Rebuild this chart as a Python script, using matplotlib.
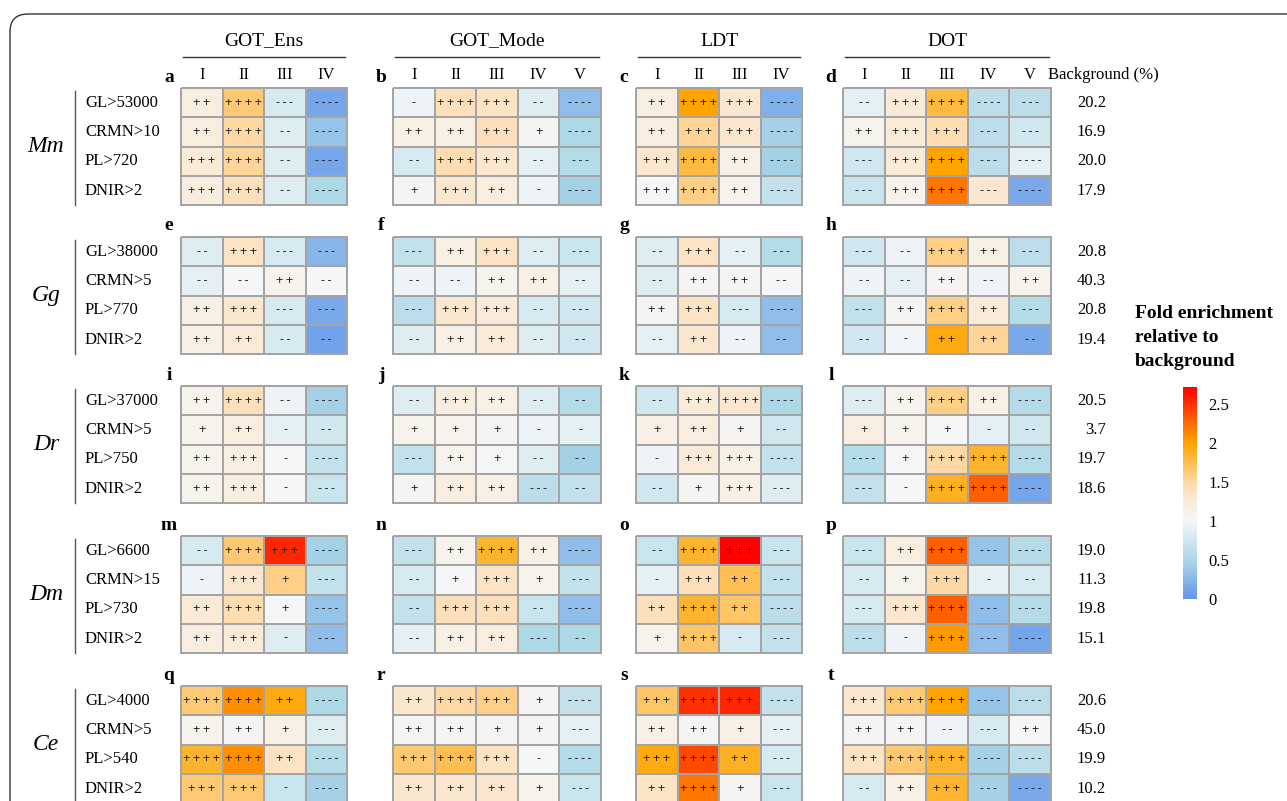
import numpy as np
import matplotlib
matplotlib.use("Agg")
import matplotlib.pyplot as plt
from matplotlib.colors import LinearSegmentedColormap, Normalize
from matplotlib.cm import ScalarMappable
from matplotlib.patches import FancyBboxPatch

plt.rcParams["font.family"] = ["Liberation Serif", "DejaVu Serif"]

# ---------------------------------------------------------------- data
species = ["Mm", "Gg", "Dr", "Dm", "Ce"]
methods = ["GOT_Ens", "GOT_Mode", "LDT", "DOT"]
method_classes = [["I", "II", "III", "IV"],
                  ["I", "II", "III", "IV", "V"],
                  ["I", "II", "III", "IV"],
                  ["I", "II", "III", "IV", "V"]]
panel_letters = list("abcdefghijklmnopqrst")

row_labels = [["GL>53000", "CRMN>10", "PL>720", "DNIR>2"],
              ["GL>38000", "CRMN>5", "PL>770", "DNIR>2"],
              ["GL>37000", "CRMN>5", "PL>750", "DNIR>2"],
              ["GL>6600", "CRMN>15", "PL>730", "DNIR>2"],
              ["GL>4000", "CRMN>5", "PL>540", "DNIR>2"]]

background_pct = [[20.2, 16.9, 20.0, 17.9],
                  [20.8, 40.3, 20.8, 19.4],
                  [20.5, 3.7, 19.7, 18.6],
                  [19.0, 11.3, 19.8, 15.1],
                  [20.6, 45.0, 19.9, 10.2]]

# fold enrichment relative to background: species x criterion x class
got_ens_fold = [
    [[1.20, 1.65, 0.80, 0.12], [1.20, 1.50, 0.85, 0.35], [1.25, 1.55, 0.85, 0.12], [1.20, 1.40, 0.85, 0.50]],
    [[0.85, 1.35, 0.80, 0.25], [0.90, 1.00, 1.10, 1.00], [1.15, 1.30, 0.80, 0.15], [1.15, 1.25, 0.80, 0.10]],
    [[1.10, 1.40, 0.95, 0.45], [1.10, 1.20, 0.90, 0.75], [1.10, 1.20, 1.00, 0.65], [1.10, 1.20, 1.00, 0.70]],
    [[0.80, 1.65, 2.55, 0.45], [0.95, 1.30, 1.60, 0.65], [1.25, 1.45, 1.00, 0.35], [1.20, 1.25, 0.85, 0.30]],
    [[1.65, 2.10, 1.95, 0.50], [1.10, 1.05, 1.15, 0.85], [1.85, 2.10, 1.35, 0.55], [1.65, 1.65, 0.70, 0.45]],
]
got_ens_sig = [
    [["++", "++++", "---", "----"], ["++", "++++", "--", "----"], ["+++", "++++", "--", "----"], ["+++", "++++", "--", "----"]],
    [["--", "+++", "---", "---"], ["--", "--", "++", "--"], ["++", "+++", "---", "---"], ["++", "++", "--", "--"]],
    [["++", "++++", "--", "----"], ["+", "++", "-", "--"], ["++", "+++", "-", "----"], ["++", "+++", "-", "---"]],
    [["--", "++++", "+++", "----"], ["-", "+++", "+", "---"], ["++", "++++", "+", "----"], ["++", "+++", "-", "---"]],
    [["++++", "++++", "++", "----"], ["++", "++", "+", "---"], ["++++", "++++", "++", "----"], ["+++", "+++", "-", "----"]],
]

got_mode_fold = [
    [[0.95, 1.40, 1.35, 0.85, 0.30], [1.15, 1.15, 1.40, 1.05, 0.50], [0.80, 1.45, 1.30, 0.90, 0.55], [1.05, 1.30, 1.20, 0.95, 0.45]],
    [[0.65, 1.15, 1.35, 0.85, 0.70], [0.95, 0.95, 1.10, 1.15, 0.90], [0.60, 1.30, 1.25, 0.80, 0.75], [0.85, 1.15, 1.25, 0.85, 0.75]],
    [[0.85, 1.20, 1.15, 0.85, 0.55], [1.10, 1.10, 1.05, 0.95, 0.90], [0.65, 1.10, 1.00, 0.85, 0.45], [1.05, 1.20, 1.15, 0.60, 0.65]],
    [[0.65, 1.10, 1.85, 1.15, 0.30], [0.80, 1.00, 1.35, 1.10, 0.65], [0.65, 1.40, 1.40, 0.70, 0.30], [0.90, 1.15, 1.20, 0.50, 0.50]],
    [[1.30, 1.50, 1.60, 1.05, 0.65], [1.05, 1.05, 1.05, 1.05, 0.90], [1.65, 1.75, 1.35, 1.00, 0.55], [1.30, 1.30, 1.30, 1.10, 0.70]],
]
got_mode_sig = [
    [["-", "++++", "+++", "--", "----"], ["++", "++", "+++", "+", "----"], ["--", "++++", "+++", "--", "---"], ["+", "+++", "++", "-", "----"]],
    [["---", "++", "+++", "--", "---"], ["--", "--", "++", "++", "--"], ["---", "+++", "+++", "--", "---"], ["--", "++", "++", "--", "--"]],
    [["--", "+++", "++", "--", "--"], ["+", "+", "+", "-", "-"], ["---", "++", "+", "--", "--"], ["+", "++", "++", "---", "--"]],
    [["---", "++", "++++", "++", "----"], ["--", "+", "+++", "+", "---"], ["--", "+++", "+++", "--", "----"], ["--", "++", "++", "---", "--"]],
    [["++", "++++", "+++", "+", "----"], ["++", "++", "+", "+", "---"], ["+++", "++++", "+++", "-", "----"], ["++", "++", "++", "+", "---"]],
]

ldt_fold = [
    [[1.20, 2.00, 1.30, 0.20], [1.20, 1.55, 1.30, 0.45], [1.30, 1.80, 1.15, 0.45], [1.00, 1.60, 1.10, 0.65]],
    [[0.85, 1.35, 0.90, 0.55], [0.85, 1.05, 1.05, 1.00], [1.05, 1.35, 0.80, 0.30], [0.90, 1.30, 0.95, 0.30]],
    [[0.75, 1.25, 1.30, 0.50], [1.15, 1.20, 1.05, 0.75], [0.95, 1.25, 1.15, 0.65], [0.75, 1.05, 1.15, 0.85]],
    [[0.70, 1.85, 2.70, 0.70], [0.90, 1.40, 1.75, 0.65], [1.40, 1.85, 1.70, 0.60], [1.10, 1.70, 0.80, 0.65]],
    [[1.70, 2.50, 2.55, 0.65], [1.15, 1.05, 1.15, 0.90], [1.95, 2.40, 1.90, 0.80], [1.35, 2.20, 1.05, 0.70]],
]
ldt_sig = [
    [["++", "++++", "+++", "----"], ["++", "+++", "+++", "----"], ["+++", "++++", "++", "----"], ["+++", "++++", "++", "----"]],
    [["--", "+++", "--", "---"], ["--", "++", "++", "--"], ["++", "+++", "---", "----"], ["--", "++", "--", "--"]],
    [["--", "+++", "++++", "----"], ["+", "++", "+", "--"], ["-", "+++", "+++", "----"], ["--", "+", "+++", "---"]],
    [["--", "++++", "+++", "---"], ["-", "+++", "++", "---"], ["++", "++++", "++", "----"], ["+", "++++", "-", "---"]],
    [["+++", "++++", "+++", "----"], ["++", "++", "+", "---"], ["+++", "++++", "++", "---"], ["++", "++++", "+", "---"]],
]

dot_fold = [
    [[0.90, 1.25, 1.80, 0.60, 0.60], [1.10, 1.25, 1.45, 0.60, 0.75], [0.75, 1.25, 2.00, 0.60, 0.90], [0.70, 1.10, 2.20, 1.30, 0.15]],
    [[0.75, 0.95, 1.60, 1.15, 0.60], [0.95, 0.90, 1.05, 0.95, 1.10], [0.65, 1.05, 1.60, 1.25, 0.55], [0.75, 0.98, 1.95, 1.55, 0.15]],
    [[0.85, 1.10, 1.60, 1.15, 0.55], [1.20, 1.10, 1.00, 0.90, 0.75], [0.55, 1.00, 1.50, 1.85, 0.55], [0.65, 1.00, 1.90, 2.30, 0.12]],
    [[0.70, 1.20, 2.30, 0.35, 0.55], [0.80, 1.10, 1.50, 0.90, 0.80], [0.80, 1.30, 2.30, 0.30, 0.55], [0.60, 0.95, 2.05, 0.30, 0.12]],
    [[1.30, 1.65, 2.00, 0.35, 0.60], [1.05, 1.05, 0.95, 0.80, 1.00], [1.35, 1.65, 1.85, 0.45, 0.60], [0.80, 1.15, 1.85, 0.45, 0.15]],
]
dot_sig = [
    [["--", "+++", "++++", "----", "---"], ["++", "+++", "+++", "---", "---"], ["---", "+++", "++++", "---", "----"], ["---", "+++", "++++", "---", "----"]],
    [["---", "--", "++++", "++", "---"], ["--", "--", "++", "--", "++"], ["---", "++", "++++", "++", "---"], ["--", "-", "++", "++", "--"]],
    [["---", "++", "++++", "++", "----"], ["+", "+", "+", "-", "--"], ["----", "+", "++++", "++++", "----"], ["---", "-", "++++", "++++", "----"]],
    [["---", "++", "++++", "---", "----"], ["--", "+", "+++", "-", "--"], ["---", "+++", "++++", "---", "----"], ["---", "-", "++++", "---", "----"]],
    [["+++", "++++", "++++", "----", "----"], ["++", "++", "--", "---", "++"], ["+++", "++++", "++++", "----", "----"], ["--", "++", "+++", "---", "----"]],
]

method_fold = [got_ens_fold, got_mode_fold, ldt_fold, dot_fold]
method_sig = [got_ens_sig, got_mode_sig, ldt_sig, dot_sig]

cbar_ticks = [0, 0.5, 1, 1.5, 2, 2.5]
cbar_ticklabels = ["0", "0.5", "1", "1.5", "2", "2.5"]

# ---------------------------------------------------------------- colours
VMAX = 2.72
norm = Normalize(vmin=0, vmax=VMAX)
nodes = [(0.0, "#6495ED"), (0.5, "#ADD8E6"), (1.0, "#F4F6F8"),
         (1.25, "#FAEBD9"), (1.5, "#FFD9A6"), (2.0, "#FFA500"),
         (2.72, "#FF0000")]
cmap = LinearSegmentedColormap.from_list(
    "fold", [(v / VMAX, c) for v, c in nodes])

# ---------------------------------------------------------------- layout (pixels)
W, H = 1287, 801
fig = plt.figure(figsize=(W / 100, H / 100), dpi=100)


def fig_rect(x, y, w, h):
    return [x / W, 1 - (y + h) / H, w / W, h / H]


bg = fig.add_axes([0, 0, 1, 1])
bg.set_xlim(0, W)
bg.set_ylim(H, 0)
bg.axis("off")

# rounded frame running off the right and bottom edges
bg.add_patch(FancyBboxPatch((10, 14), 1500, 1000,
                            boxstyle="round,pad=0,rounding_size=18",
                            fill=False, ec="#333333", lw=1.0))

panel_left = [181, 393, 636, 843]
group_top = [88, 237, 386, 536, 686]
cell_w, cell_h = 41.6, 29.3
edge_col = "#A4A4A4"
THIN = "\u2009"


def sym_text(s):
    # significance marks are drawn letter-spaced
    return THIN.join(s)


for si, sp in enumerate(species):
    top = group_top[si]
    gh = 4 * cell_h
    # species label and bracket line
    bg.text(46, top + gh / 2, sp, fontsize=17, style="italic",
            ha="center", va="center")
    bg.plot([75, 75], [top + 3, top + gh], color="#555555", lw=1.0)
    for r, lab in enumerate(row_labels[si]):
        yc = top + (r + 0.5) * cell_h
        bg.text(85, yc, lab, fontsize=12, ha="left", va="center")
        bg.text(1106, yc, f"{background_pct[si][r]:.1f}", fontsize=12,
                ha="right", va="center")

    for mi in range(len(methods)):
        vals = np.array(method_fold[mi][si])
        sig = method_sig[mi][si]
        ncol = vals.shape[1]
        ax = fig.add_axes(fig_rect(panel_left[mi], top, ncol * cell_w, gh))
        mesh = ax.pcolormesh(vals, cmap=cmap, norm=norm,
                             edgecolors=edge_col, linewidth=1.1)
        mesh.set_clip_on(False)
        ax.set_xlim(0, ncol)
        ax.set_ylim(4, 0)
        ax.axis("off")
        for r in range(4):
            for c in range(ncol):
                ax.text(c + 0.5, r + 0.5, sym_text(sig[r][c]),
                        ha="center", va="center", fontsize=9,
                        family=["Liberation Sans", "DejaVu Sans"],
                        color="#1a1a1a")
        letter = panel_letters[si * 4 + mi]
        bg.text(panel_left[mi] - 12, top - 11, letter, fontsize=14,
                fontweight="bold", ha="center", va="center")
        if si == 0:
            for c, cl in enumerate(method_classes[mi]):
                bg.text(panel_left[mi] + (c + 0.5) * cell_w, top - 13, cl,
                        fontsize=12, ha="center", va="center")
            x0 = panel_left[mi] + 2
            x1 = panel_left[mi] + ncol * cell_w - 2
            bg.plot([x0, x1], [57, 57], color="#333333", lw=1.0)
            bg.text((x0 + x1) / 2, 41, methods[mi], fontsize=14,
                    ha="center", va="center")

bg.text(1048, 75, "Background (%)", fontsize=12, ha="left", va="center")

# colour bar
for k, line in enumerate(["Fold enrichment", "relative to", "background"]):
    bg.text(1135, 313 + 24 * k, line, fontsize=14, fontweight="bold",
            ha="left", va="center")

cax = fig.add_axes(fig_rect(1183, 387, 14, 212))
cb = fig.colorbar(ScalarMappable(norm=norm, cmap=cmap), cax=cax,
                  ticks=cbar_ticks)
cb.ax.set_yticklabels(cbar_ticklabels)
cb.outline.set_visible(False)
cb.ax.tick_params(length=0, labelsize=12, pad=8)

fig.savefig("out.png", dpi=100)
